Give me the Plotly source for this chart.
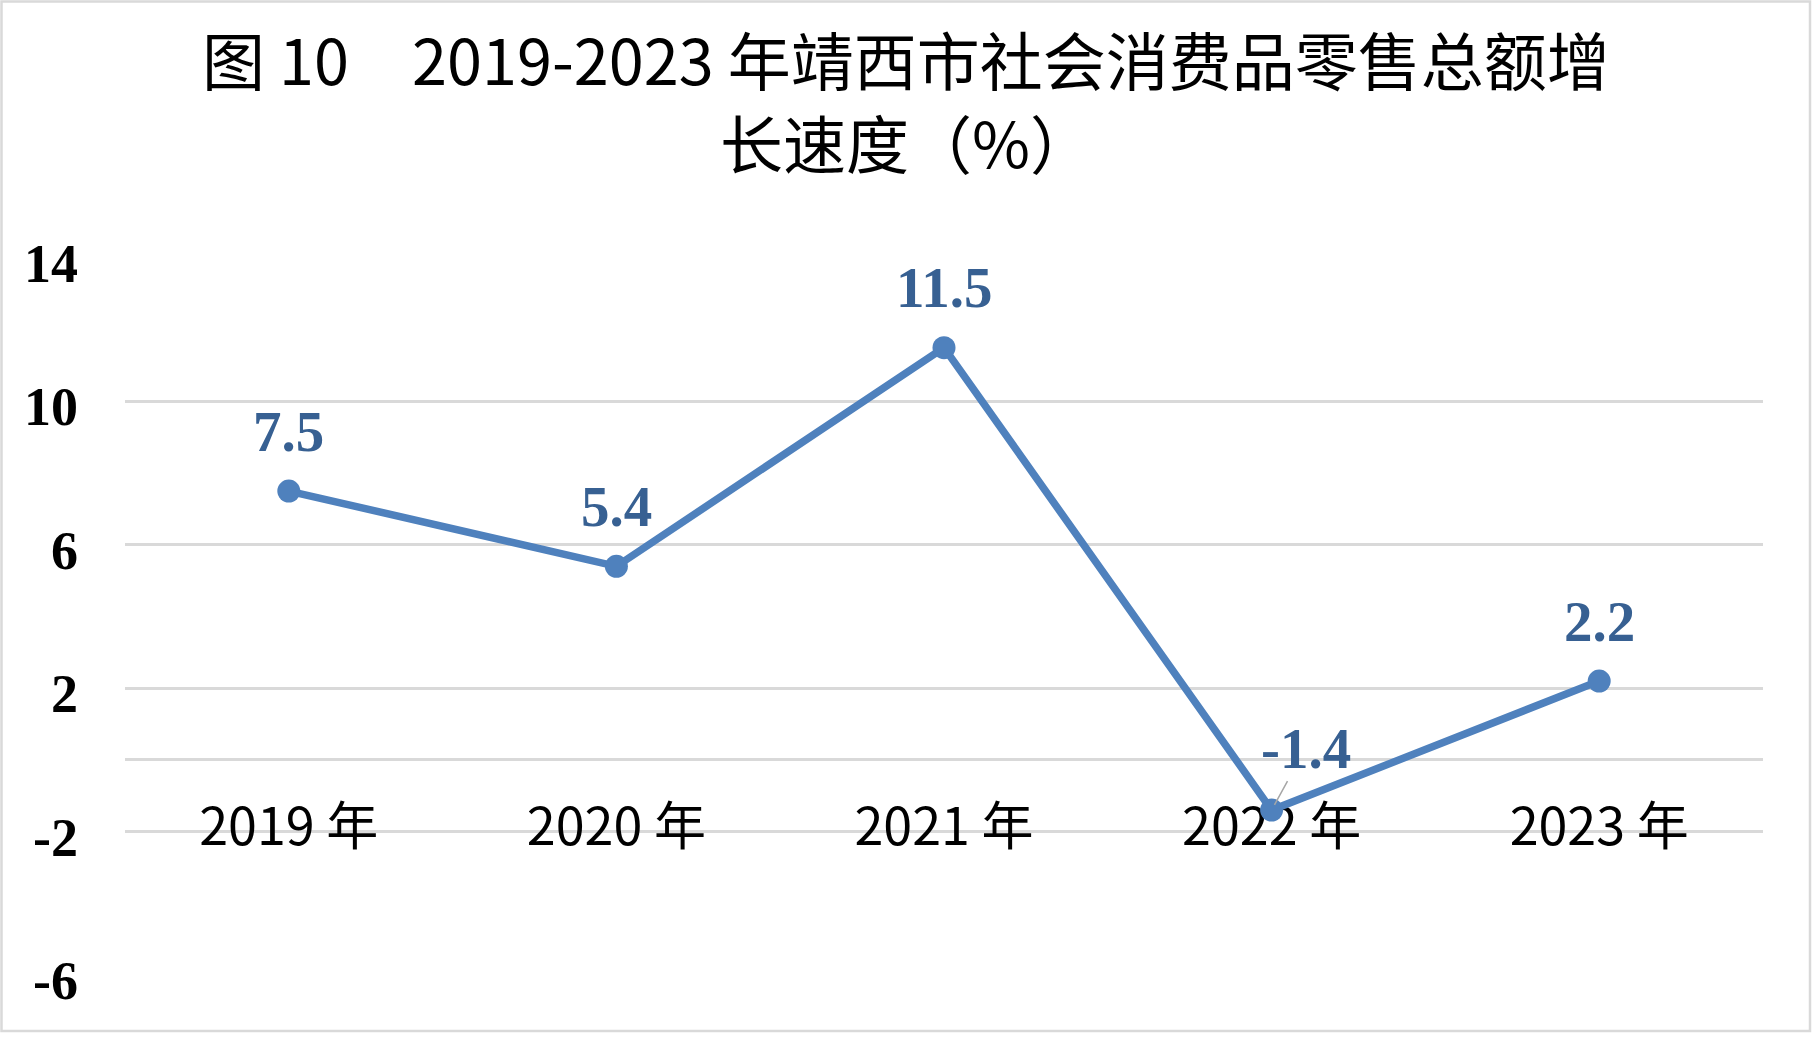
import plotly.graph_objects as go

categories = ["2019 年", "2020 年", "2021 年", "2022 年", "2023 年"]
values = [7.5, 5.4, 11.5, -1.4, 2.2]
value_labels = ["7.5", "5.4", "11.5", "-1.4", "2.2"]
y_tickvals = [-6, -2, 2, 6, 10, 14]
y_ticktext = ["-6", "-2", "2", "6", "10", "14"]
title_line1 = "图 10\u30002019-2023 年靖西市社会消费品零售总额增"
title_line2 = "长速度（%）"

W, H = 1812, 1038
L, R, T, B = 125, 49, 258, 63
PW, PH = W - L - R, H - T - B

LINE_COLOR = "#4F81BD"
LABEL_COLOR = "#376092"
GRID = "#D9D9D9"
CJK = "Noto Sans CJK SC"
SERIF = "Liberation Serif, Times New Roman, serif"

fig = go.Figure()
fig.add_trace(go.Scatter(
    x=categories, y=values, mode="lines+markers",
    line=dict(color=LINE_COLOR, width=7.5),
    marker=dict(color=LINE_COLOR, size=23),
    hoverinfo="skip", showlegend=False,
))

annotations = []
for c, v, t in zip(categories, values, value_labels):
    if v < 0:
        annotations.append(dict(
            x=c, y=v, xref="x", yref="y", text=t, showarrow=True,
            ax=34, ay=-62, arrowhead=0, arrowwidth=1.5, arrowcolor="#A6A6A6",
            standoff=6,
            font=dict(family=SERIF, size=57, color=LABEL_COLOR, weight="bold"),
        ))
    else:
        annotations.append(dict(
            x=c, y=v, xref="x", yref="y", text=t, showarrow=False,
            yshift=60, yanchor="middle",
            font=dict(family=SERIF, size=57, color=LABEL_COLOR, weight="bold"),
        ))

cx = (W / 2 - L) / PW
annotations.append(dict(
    x=cx, y=(T + PH - 58) / PH, xref="paper", yref="paper",
    text=title_line1, showarrow=False, xanchor="center", yanchor="middle",
    font=dict(family=CJK, size=63, color="#000000"),
))
annotations.append(dict(
    x=cx, y=(T + PH - 141) / PH, xref="paper", yref="paper",
    text=title_line2, showarrow=False, xanchor="center", yanchor="middle",
    font=dict(family=CJK, size=63, color="#000000"),
))

ymin, ymax = -6, 14
fig.update_layout(
    width=W, height=H,
    margin=dict(l=L, r=R, t=T, b=B),
    paper_bgcolor="white", plot_bgcolor="white",
    annotations=annotations,
    shapes=[dict(
        type="rect", xref="paper", yref="paper",
        x0=(1.5 - L) / PW, x1=(1810 - L) / PW,
        y0=(T + PH - 1031) / PH, y1=(T + PH - 1.5) / PH,
        line=dict(color=GRID, width=2.5), fillcolor="rgba(0,0,0,0)", layer="below",
    )],
    xaxis=dict(
        type="category", range=[-0.5, 4.5],
        anchor="free", position=(0 - ymin) / (ymax - ymin),
        showline=False, showgrid=False, zeroline=False, ticks="",
        ticklabelstandoff=32,
        tickfont=dict(family=CJK, size=52, color="#000000"),
        layer="below traces",
    ),
    yaxis=dict(
        range=[ymin, ymax], domain=[0, 1],
        tickvals=y_tickvals, ticktext=y_ticktext,
        showgrid=True, gridcolor=GRID, gridwidth=2.5,
        zeroline=True, zerolinecolor=GRID, zerolinewidth=2.5,
        showline=False, ticks="",
        ticklabelstandoff=46, ticklabelshift=5,
        tickfont=dict(family=SERIF, size=54, color="#000000", weight="bold"),
        layer="below traces",
    ),
)

fig.write_html("out.html", config={"displayModeBar": False},
               post_script="document.body.style.margin='0';")
